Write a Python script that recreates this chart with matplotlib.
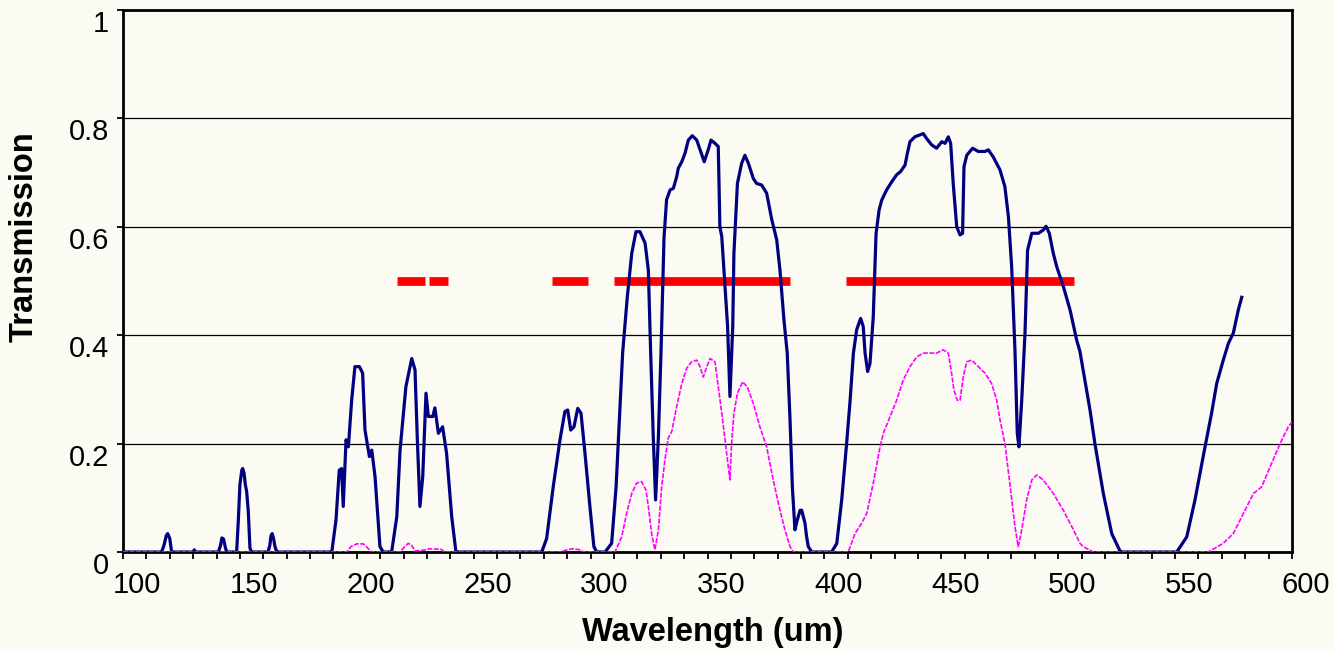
import matplotlib
matplotlib.use("Agg")
import matplotlib.pyplot as plt
from matplotlib.transforms import ScaledTranslation
import numpy as np

# ---------------- data ----------------
blue_w = [100, 116.5, 117.5, 118.5, 119.1, 120.0, 120.8, 130.0, 130.5, 131.0,
          140.8, 141.7, 142.3, 143.0, 143.7, 144.3, 148.6, 149.3, 150.0, 150.8,
          151.2, 151.8, 152.3, 152.9, 153.6, 154.3, 155.0, 162.0, 162.8, 163.3,
          163.8, 164.4, 165.0, 165.8, 189.3, 191.1, 192.5, 193.5, 194.2, 195.4,
          196.4, 197.8, 199.2, 201.1, 202.5, 203.5, 205.4, 206.4, 207.8, 209.9,
          211.3, 214.9, 217.1, 218.5, 221.0, 223.5, 224.9, 225.9, 227.0, 228.2,
          229.6, 230.6, 232.5, 233.4, 234.9, 236.7, 238.4, 240.6, 242.4, 279.1,
          281.2, 284.0, 286.9, 289.0, 290.2, 291.5, 292.9, 294.5, 295.9, 297.6,
          299.7, 301.4, 302.6, 306.2, 309.0, 310.9, 312.3, 313.7, 315.7, 317.6,
          319.4, 321.1, 323.3, 324.7, 325.7, 326.8, 327.8, 329.0, 330.1, 330.6,
          331.4, 332.5, 334.0, 335.4, 336.8, 337.5, 339.0, 340.4, 341.8, 343.5,
          345.4, 347.1, 348.6, 350.3, 351.5, 353.2, 354.6, 355.3, 356.1, 357.5,
          358.6, 359.6, 360.8, 361.3, 362.8, 364.6, 366.0, 367.5, 369.6, 371.0,
          373.2, 375.3, 377.5, 379.6, 381.0, 382.7, 384.1, 385.3, 386.3, 387.4,
          388.4, 389.6, 390.3, 391.0, 391.7, 392.4, 393.1, 394.6, 403.1, 405.3,
          407.4, 409.5, 411.0, 412.4, 413.8, 415.5, 416.6, 417.4, 418.5, 419.5,
          420.9, 422.1, 423.4, 424.5, 426.6, 428.8, 430.9, 432.6, 434.5, 435.5,
          436.6, 438.7, 442.3, 443.7, 445.9, 448.0, 450.2, 451.6, 453.0, 454.0,
          455.1, 456.6, 458.0, 459.1, 459.7, 460.9, 463.4, 465.8, 468.7, 470.1,
          472.2, 475.1, 477.2, 478.7, 480.1, 481.5, 482.5, 483.2, 484.4, 485.8,
          486.9, 488.7, 491.5, 493.6, 494.8, 496.2, 497.9, 499.4, 502.2, 505.1,
          507.9, 509.3, 510.7, 513.6, 515.7, 519.3, 522.9, 526.4, 527.5, 550.7,
          555.0, 558.5, 562.8, 565.6, 567.8, 570.6, 572.8, 574.9, 577.0, 578.5]
blue_t = [0, 0, 0.012, 0.030, 0.034, 0.025, 0, 0, 0.004, 0,
          0, 0.012, 0.026, 0.024, 0.010, 0, 0, 0.056, 0.124, 0.151,
          0.154, 0.145, 0.125, 0.111, 0.074, 0.007, 0, 0, 0.012, 0.030,
          0.034, 0.025, 0.010, 0, 0, 0.059, 0.151, 0.154, 0.084, 0.207,
          0.194, 0.280, 0.342, 0.342, 0.330, 0.225, 0.176, 0.188, 0.139, 0.010,
          0, 0, 0.065, 0.188, 0.305, 0.357, 0.336, 0.207, 0.084, 0.139,
          0.293, 0.250, 0.250, 0.266, 0.219, 0.231, 0.182, 0.065, 0, 0,
          0.025, 0.120, 0.207, 0.259, 0.262, 0.225, 0.231, 0.265, 0.256, 0.182,
          0.084, 0.010, 0, 0, 0.016, 0.120, 0.244, 0.367, 0.471, 0.551,
          0.591, 0.591, 0.570, 0.520, 0.367, 0.213, 0.096, 0.213, 0.367, 0.450,
          0.580, 0.650, 0.668, 0.671, 0.692, 0.708, 0.720, 0.736, 0.760, 0.768,
          0.760, 0.739, 0.720, 0.742, 0.760, 0.754, 0.748, 0.600, 0.582, 0.490,
          0.416, 0.287, 0.416, 0.551, 0.680, 0.717, 0.732, 0.717, 0.689, 0.680,
          0.677, 0.662, 0.613, 0.576, 0.520, 0.428, 0.367, 0.244, 0.120, 0.041,
          0.059, 0.077, 0.077, 0.065, 0.053, 0.028, 0.010, 0, 0, 0.016,
          0.096, 0.200, 0.280, 0.367, 0.410, 0.431, 0.416, 0.367, 0.333, 0.348,
          0.434, 0.588, 0.631, 0.649, 0.668, 0.683, 0.696, 0.702, 0.714, 0.736,
          0.757, 0.766, 0.772, 0.763, 0.751, 0.745, 0.757, 0.754, 0.766, 0.754,
          0.680, 0.600, 0.585, 0.588, 0.711, 0.732, 0.745, 0.739, 0.739, 0.742,
          0.729, 0.705, 0.674, 0.619, 0.526, 0.373, 0.219, 0.194, 0.280, 0.404,
          0.557, 0.588, 0.588, 0.594, 0.601, 0.588, 0.551, 0.526, 0.490, 0.446,
          0.391, 0.370, 0.335, 0.262, 0.200, 0.108, 0.034, 0.002, 0, 0,
          0.028, 0.096, 0.194, 0.256, 0.311, 0.354, 0.385, 0.404, 0.446, 0.470]

pink_w = [100, 195.7, 197.5, 200.0, 202.8, 204.5, 206.4, 218.5, 220.5, 222.0,
          223.5, 224.9, 229.9, 231.0, 236.0, 237.5, 287.0, 289.8, 292.5, 295.5,
          297.0, 310.4, 313.3, 315.4, 317.6, 319.7, 321.8, 323.7, 324.7, 326.1,
          327.5, 329.0, 330.4, 331.8, 333.2, 334.7, 336.8, 339.0, 341.1, 343.2,
          345.4, 346.8, 348.2, 349.7, 351.1, 353.2, 354.6, 356.1, 357.5, 358.9,
          359.6, 360.3, 361.3, 362.8, 365.0, 367.0, 369.6, 372.4, 375.3, 378.1,
          381.0, 383.1, 385.3, 386.7, 410.2, 413.1, 415.9, 418.1, 420.9, 423.8,
          425.2, 428.1, 430.9, 433.7, 436.6, 439.5, 442.3, 448.0, 450.8, 453.0,
          454.4, 455.4, 456.8, 458.0, 459.4, 460.9, 463.0, 465.8, 468.7, 471.5,
          473.7, 475.1, 477.2, 479.3, 481.5, 482.9, 484.4, 486.5, 488.7, 490.8,
          493.6, 497.9, 502.2, 506.5, 509.3, 510.7, 515.0, 564.2, 570.6, 574.9,
          579.2, 583.5, 587.0, 590.6, 594.9, 598.4, 600.0]
pink_t = [0, 0, 0.010, 0.015, 0.015, 0.008, 0, 0, 0.010, 0.016,
          0.012, 0.002, 0.004, 0.006, 0.005, 0, 0, 0.004, 0.006, 0.004,
          0, 0, 0.028, 0.071, 0.108, 0.127, 0.130, 0.114, 0.084, 0.034,
          0.004, 0.041, 0.120, 0.170, 0.210, 0.222, 0.268, 0.311, 0.339, 0.351,
          0.354, 0.342, 0.323, 0.342, 0.357, 0.351, 0.305, 0.256, 0.207, 0.157,
          0.133, 0.200, 0.256, 0.293, 0.314, 0.305, 0.274, 0.231, 0.194, 0.133,
          0.077, 0.041, 0.010, 0, 0, 0.034, 0.053, 0.071, 0.127, 0.194,
          0.219, 0.250, 0.280, 0.317, 0.342, 0.360, 0.367, 0.367, 0.373, 0.367,
          0.330, 0.299, 0.280, 0.280, 0.323, 0.351, 0.354, 0.342, 0.330, 0.311,
          0.280, 0.244, 0.200, 0.127, 0.047, 0.010, 0.041, 0.096, 0.133, 0.142,
          0.133, 0.108, 0.077, 0.041, 0.016, 0.010, 0, 0, 0.016, 0.034,
          0.071, 0.108, 0.120, 0.157, 0.200, 0.231, 0.240]

band_start = [217.0, 231.0, 283.5, 310.0, 409.2]
band_end = [229.0, 239.0, 299.0, 385.3, 506.8]
band_level = 0.5

x_ticks = [100, 150, 200, 250, 300, 350, 400, 450, 500, 550, 600]
y_ticks = [0, 0.2, 0.4, 0.6, 0.8, 1.0]
y_ticklabels = ["0", "0.2", "0.4", "0.6", "0.8", "1"]

# ---------------- figure ----------------
BG = "#fbfbf3"
plt.rcParams["font.family"] = ["Liberation Sans", "DejaVu Sans"]

fig = plt.figure(figsize=(13.34, 6.51), dpi=100, facecolor=BG)
ax = fig.add_axes([123 / 1334, 1 - 552 / 651, (1292 - 123) / 1334, (552 - 10) / 651])
ax.set_facecolor(BG)

for s, e in zip(band_start, band_end):
    ax.plot([s, e], [band_level, band_level], color="#ff0000", lw=6.3,
            solid_capstyle="butt", zorder=3)

ax.plot(blue_w, blue_t, color="#000080", lw=2.3, zorder=4)
ax.plot(pink_w, pink_t, color="#ff00ff", lw=1.2, zorder=5,
        linestyle=(0, (3.0, 0.9)))

ax.set_xlim(100, 600)
ax.set_ylim(0, 1)
ax.set_xticks(x_ticks)
ax.set_xticks(np.arange(100, 601, 10), minor=True)
ax.set_yticks(y_ticks)
ax.set_yticklabels(y_ticklabels)

ax.yaxis.grid(True, color="black", lw=0.9)
ax.set_axisbelow(True)

for sp in ax.spines.values():
    sp.set_linewidth(2.0)
    sp.set_color("black")

ax.tick_params(axis="x", which="both", direction="out", length=5, width=1.3,
               labelsize=21, pad=9)
ax.tick_params(axis="y", which="both", direction="out", length=4, width=1.3,
               labelsize=21, pad=6)

dx = ScaledTranslation(14 / 100, 0, fig.dpi_scale_trans)
for lab in ax.get_xticklabels():
    lab.set_transform(lab.get_transform() + dx)
dy = ScaledTranslation(0, -11 / 100, fig.dpi_scale_trans)
for lab in ax.get_yticklabels():
    lab.set_transform(lab.get_transform() + dy)

fig.text(24 / 1334, 1 - 237 / 651, "Transmission", rotation=90,
         ha="center", va="center", rotation_mode="anchor",
         fontsize=23.5, fontweight="bold")
fig.text(713 / 1334, 1 - 633 / 651, "Wavelength (um)",
         ha="center", va="center", fontsize=23.5, fontweight="bold")

fig.savefig("out.png", dpi=100, facecolor=BG)
